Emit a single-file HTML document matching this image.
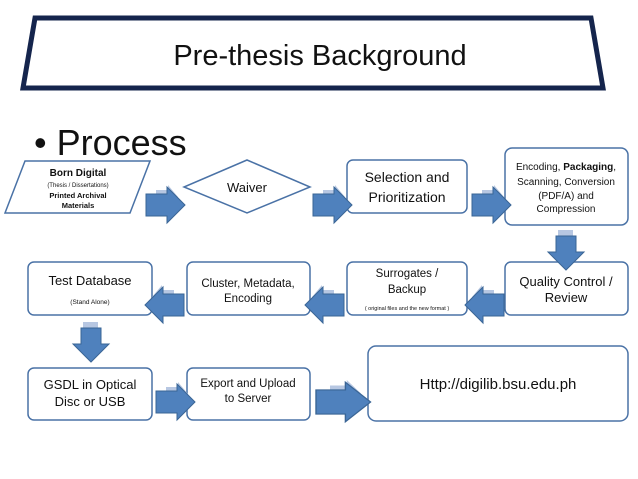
<!DOCTYPE html>
<html><head><meta charset="utf-8"><style>
html,body{margin:0;padding:0;background:#fff;}
svg{display:block;font-family:"Liberation Sans",sans-serif;}
</style></head><body>
<svg width="638" height="479" viewBox="0 0 638 479">
<defs>
<g id="ar">
<polygon points="10,-15 22,-15 22,-20 32,-8 22,4 22,-1 10,-1" fill="#b7c7e2"/>
<polygon points="0,-11 21,-11 21,-18 39,0 21,18 21,11 0,11" fill="#4f81bd" stroke="#3a6595" stroke-width="1"/>
</g>
<g id="dn">
<polygon points="-8,0 7,0 7,18 -8,18" fill="#b7c7e2"/>
<polygon points="-10,6 10,6 10,22 18,22 0,40 -18,22 -10,22" fill="#4f81bd" stroke="#3a6595" stroke-width="1"/>
</g>
</defs>
<polygon points="35,18 591,18 603,88 23,88" fill="#fff" stroke="#15254d" stroke-width="5"/>
<text x="320" y="65" font-size="29" text-anchor="middle" fill="#111">Pre-thesis Background</text>
<text x="34" y="155" font-size="36" fill="#111">• Process</text>

<g fill="#fff" stroke="#4a72a6" stroke-width="1.5">
<polygon points="25,161 150,161 130,213 5,213"/>
<polygon points="247,160 310,187 247,213 184,187"/>
<rect x="347" y="160" width="120" height="53" rx="6"/>
<rect x="505" y="148" width="123" height="77" rx="7"/>
<rect x="28" y="262" width="124" height="53" rx="6"/>
<rect x="187" y="262" width="123" height="53" rx="6"/>
<rect x="347" y="262" width="120" height="53" rx="6"/>
<rect x="505" y="262" width="123" height="53" rx="6"/>
<rect x="28" y="368" width="124" height="52" rx="6"/>
<rect x="187" y="368" width="123" height="52" rx="6"/>
<rect x="368" y="346" width="260" height="75" rx="8"/>
</g>

<use href="#ar" x="146" y="205"/>
<use href="#ar" x="313" y="205"/>
<use href="#ar" x="472" y="205"/>
<use href="#ar" transform="translate(184,305) scale(-1,1)"/>
<use href="#ar" transform="translate(344,305) scale(-1,1)"/>
<use href="#ar" transform="translate(504,305) scale(-1,1)"/>
<use href="#dn" x="566" y="230"/>
<use href="#dn" x="91" y="322"/>
<use href="#ar" x="156" y="402"/>
<g transform="translate(316,402) scale(1.4,1.1)"><use href="#ar"/></g>

<g fill="#111" text-anchor="middle">
<text x="78" y="176" font-size="10" font-weight="bold">Born Digital</text>
<text x="78" y="187" font-size="6">(Thesis / Dissertations)</text>
<text x="78" y="198" font-size="7.5" font-weight="bold">Printed Archival</text>
<text x="78" y="208" font-size="7.5" font-weight="bold">Materials</text>
<text x="247" y="192" font-size="13">Waiver</text>
<text x="407" y="182" font-size="14">Selection and</text>
<text x="407" y="202" font-size="14">Prioritization</text>
<text x="566" y="170" font-size="10">Encoding, <tspan font-weight="bold">Packaging</tspan>,</text>
<text x="566" y="185" font-size="10">Scanning, Conversion</text>
<text x="566" y="199" font-size="10">(PDF/A) and</text>
<text x="566" y="212" font-size="10">Compression</text>
<text x="90" y="285" font-size="13">Test Database</text>
<text x="90" y="304" font-size="6.5">(Stand Alone)</text>
<text x="248" y="287" font-size="11.5">Cluster,  Metadata,</text>
<text x="248" y="302" font-size="11.5">Encoding</text>
<text x="407" y="277" font-size="11.5">Surrogates /</text>
<text x="407" y="293" font-size="11.5">Backup</text>
<text x="407" y="310" font-size="5.5">( original files and the new format )</text>
<text x="566" y="286" font-size="13">Quality Control /</text>
<text x="566" y="302" font-size="13">Review</text>
<text x="90" y="389" font-size="13">GSDL in Optical</text>
<text x="90" y="406" font-size="13">Disc or USB</text>
<text x="248" y="387" font-size="11.5">Export and Upload</text>
<text x="248" y="402" font-size="11.5">to Server</text>
<text x="498" y="389" font-size="15">Http://digilib.bsu.edu.ph</text>
</g>
</svg>
</body></html>
